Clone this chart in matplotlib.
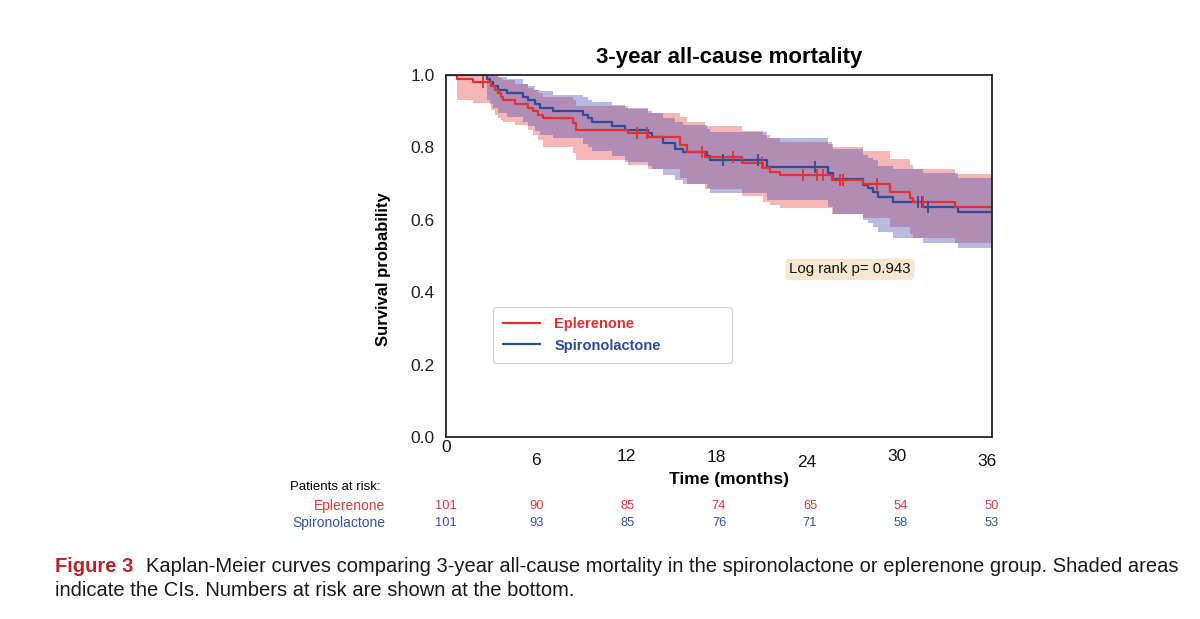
import matplotlib
matplotlib.use("Agg")
import matplotlib.pyplot as plt
from matplotlib.lines import Line2D
import numpy as np

plt.rcParams['font.family'] = ['Liberation Sans', 'DejaVu Sans']

# at-risk table
risk_months = [0, 6, 12, 18, 24, 30, 36]
risk_eple = [101, 90, 85, 74, 65, 54, 50]
risk_spiro = [101, 93, 85, 76, 71, 58, 53]

# Eplerenone KM curve
eple_t = [0, 0.75, 1.82, 2.98, 3.26, 3.48, 3.66, 3.81, 4.59, 5.48,
          5.81, 6.15, 6.48, 8.48, 8.66, 12.14, 13.47, 15.58, 16.03, 17.24,
          19.69, 21.1, 21.57, 22.24, 25.68, 27.76, 29.56, 30.89, 31.1, 33.89, 36.35]
eple_s = [1.0, 0.99, 0.98, 0.97, 0.96, 0.95, 0.94, 0.93, 0.92, 0.91,
          0.90, 0.89, 0.88, 0.868, 0.848, 0.839, 0.83, 0.807, 0.788, 0.774,
          0.756, 0.742, 0.733, 0.724, 0.71, 0.70, 0.678, 0.659, 0.65, 0.636, 0.636]
eple_lo = [1.0, 0.931, 0.922, 0.903, 0.889, 0.882, 0.876, 0.87, 0.862, 0.848,
           0.834, 0.82, 0.802, 0.784, 0.765, 0.751, 0.74, 0.715, 0.70, 0.685,
           0.665, 0.65, 0.64, 0.632, 0.617, 0.605, 0.58, 0.56, 0.55, 0.535, 0.535]
eple_hi = [1.0, 1.0, 1.0, 1.0, 1.0, 0.995, 0.99, 0.985, 0.975, 0.965,
           0.958, 0.95, 0.94, 0.93, 0.915, 0.905, 0.895, 0.885, 0.87, 0.86,
           0.845, 0.835, 0.825, 0.815, 0.80, 0.79, 0.768, 0.752, 0.74, 0.727, 0.727]
eple_cens = [2.44, 12.72, 13.38, 17.02, 19.11, 21.02, 23.77, 24.68, 25.1,
             26.23, 26.43, 28.67, 31.76]

# Spironolactone KM curve
spiro_t = [0, 2.71, 2.93, 3.15, 3.48, 4.04, 5.15, 5.48, 5.93, 6.26,
           7.14, 9.14, 9.47, 9.7, 11.03, 11.92, 13.47, 13.7, 14.45, 15.25,
           15.78, 17.4, 17.58, 21.35, 25.43, 25.77, 27.76, 28.1, 28.43, 28.76,
           29.76, 31.76, 34.09, 36.35]
spiro_s = [1.0, 0.99, 0.98, 0.97, 0.96, 0.95, 0.94, 0.93, 0.92, 0.91,
           0.90, 0.89, 0.88, 0.87, 0.86, 0.848, 0.839, 0.83, 0.811, 0.797,
           0.788, 0.775, 0.765, 0.747, 0.728, 0.714, 0.696, 0.687, 0.678, 0.664,
           0.65, 0.636, 0.622, 0.622]
spiro_lo = [1.0, 0.93, 0.92, 0.91, 0.895, 0.885, 0.87, 0.86, 0.845, 0.835,
            0.825, 0.81, 0.80, 0.79, 0.775, 0.76, 0.75, 0.74, 0.725, 0.71,
            0.70, 0.688, 0.675, 0.655, 0.635, 0.615, 0.60, 0.59, 0.58, 0.565,
            0.55, 0.536, 0.522, 0.522]
spiro_hi = [1.0, 1.0, 1.0, 1.0, 0.995, 0.99, 0.975, 0.97, 0.96, 0.955,
            0.945, 0.94, 0.93, 0.925, 0.918, 0.908, 0.90, 0.895, 0.88, 0.87,
            0.862, 0.852, 0.842, 0.825, 0.81, 0.795, 0.78, 0.77, 0.765, 0.75,
            0.74, 0.73, 0.715, 0.715]
spiro_cens = [18.46, 20.8, 24.57, 31.45, 31.67, 32.1]

# odd vertical offsets of the x tick labels in the original (points)
xtick_drop = [0, 9, 6.3, 7, 10.5, 6.3, 9.6]

RED = '#E3312F'
BLUE = '#2B4C9B'

fig = plt.figure(figsize=(12, 6.19), dpi=100)
ax = fig.add_axes([0.3717, 0.294, 0.455, 0.5848])


def step_value(times, surv, t):
    i = np.searchsorted(times, t, side='right') - 1
    return np.asarray(surv)[i]


ax.fill_between(eple_t, eple_lo, eple_hi, step='post', color='#E8403F', alpha=0.38, lw=0)
ax.fill_between(spiro_t, spiro_lo, spiro_hi, step='post', color='#3C46B4', alpha=0.37, lw=0)
ax.step(spiro_t, spiro_s, where='post', color=BLUE, lw=1.6)
ax.step(eple_t, eple_s, where='post', color=RED, lw=1.6)
ax.plot(spiro_cens, [step_value(spiro_t, spiro_s, c) for c in spiro_cens], '|',
        color=BLUE, ms=8, mew=1.3)
ax.plot(eple_cens, [step_value(eple_t, eple_s, c) for c in eple_cens], '|',
        color=RED, ms=8, mew=1.3)

ax.set_xlim(0, 36.35)
ax.set_ylim(0, 1.0)
ax.set_yticks(np.arange(0, 1.01, 0.2))
ax.set_yticklabels([f'{v:.1f}' for v in np.arange(0, 1.01, 0.2)], fontsize=12.5, color='#222222')
ax.tick_params(axis='y', length=0, pad=8)
ax.set_xticks(risk_months)
ax.set_xticklabels([])
ax.tick_params(axis='x', length=0)
for t, d in zip(risk_months, xtick_drop):
    ax.annotate(str(t), xy=(t, 0), xycoords=('data', 'axes fraction'),
                xytext=(0, -2.5 - d), textcoords='offset points',
                ha='center', va='top', fontsize=12.5, color='#111111')

for s in ax.spines.values():
    s.set_color('#222222')
    s.set_linewidth(1.3)

ax.set_title('3-year all-cause mortality', fontsize=16, fontweight='bold', x=0.518, pad=9)
ax.set_ylabel('Survival probability', fontsize=12, fontweight='bold')
ax.yaxis.set_label_coords(-0.1007, 0.464)
ax.text(0.518, -0.116, 'Time (months)', transform=ax.transAxes, ha='center', va='center',
        fontsize=12.5, fontweight='bold')

handles = [Line2D([], [], color=RED, lw=1.6), Line2D([], [], color=BLUE, lw=1.6)]
leg = ax.legend(handles, ['Eplerenone', 'Spironolactone'], loc='upper left',
                bbox_to_anchor=(0.0861, 0.2, 0.438, 0.159), mode='expand', borderaxespad=0,
                prop={'weight': 'bold', 'size': 10.5}, handlelength=2.5, handletextpad=1.0,
                labelspacing=0.5, borderpad=0.7, frameon=True, fancybox=True)
leg.get_frame().set_edgecolor('#cccccc')
leg.get_frame().set_linewidth(1.0)
for txt, c in zip(leg.get_texts(), [RED, BLUE]):
    txt.set_color(c)

ax.text(0.74, 0.463, 'Log rank p= 0.943', transform=ax.transAxes, ha='center', va='center',
        fontsize=10.8, color='#111111',
        bbox=dict(boxstyle='round,pad=0.25', facecolor='#F4E7CF', edgecolor='none'))

# numbers at risk
ax.text(-0.286, -0.138, 'Patients at risk:', transform=ax.transAxes, ha='left', va='center',
        fontsize=9.5)
for row_y, name, vals, col in [(-0.191, 'Eplerenone', risk_eple, '#E0393E'),
                               (-0.238, 'Spironolactone', risk_spiro, '#2F55A4')]:
    ax.text(-0.112, row_y, name, transform=ax.transAxes, ha='right', va='center',
            fontsize=10, color=col)
    for t, n in zip(risk_months, vals):
        ax.text(t / 36, row_y, str(n), transform=ax.transAxes, ha='center', va='center',
                fontsize=9.3, color=col)

# caption
fig_lbl = fig.text(55 / 1200, 1 - 567 / 619, 'Figure 3', fontsize=14.5, fontweight='bold',
                   color='#B3262C', va='center')
plt.annotate('Kaplan-Meier curves comparing 3-year all-cause mortality in the spironolactone '
             'or eplerenone group. Shaded areas',
             xy=(1, 0), xycoords=fig_lbl, xytext=(9, 0), textcoords='offset points',
             va='bottom', ha='left', fontsize=14.5, color='#1a1a1a', annotation_clip=False)
fig.text(55 / 1200, 1 - 590 / 619, 'indicate the CIs. Numbers at risk are shown at the bottom.',
         fontsize=14.5, color='#1a1a1a', va='center')

fig.savefig('out.png', dpi=100, facecolor='white')
